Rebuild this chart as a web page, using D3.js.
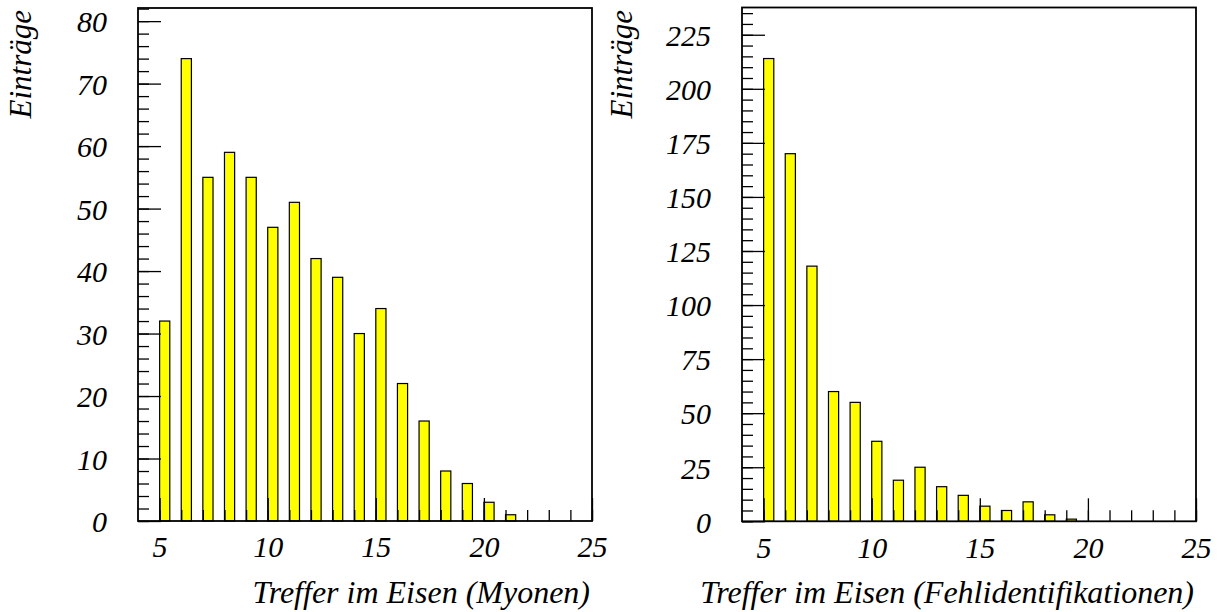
<!DOCTYPE html>
<html>
<head>
<meta charset="utf-8">
<script src="https://cdn.jsdelivr.net/npm/d3@7/dist/d3.min.js"></script>
<style>
  html, body { margin: 0; padding: 0; background: #fff; }
  svg { display: block; }
  text { font-family: "Liberation Serif", "Times New Roman", serif; font-style: italic; fill: #000; }
</style>
</head>
<body>
<svg id="chart" width="1226" height="612"></svg>
<script>
// ---- data ----
const bins = [5, 6, 7, 8, 9, 10, 11, 12, 13, 14, 15, 16, 17, 18, 19, 20, 21, 22, 23, 24];
const myonenCounts = [32, 74, 55, 59, 55, 47, 51, 42, 39, 30, 34, 22, 16, 8, 6, 3, 1, 0, 0, 0];
const fehlCounts = [214, 170, 118, 60, 55, 37, 19, 25, 16, 12, 7, 5, 9, 3, 1, 0, 0, 0, 0, 0];
const xTickLabels = [5, 10, 15, 20, 25];
const xMinorTicks = [5, 6, 7, 8, 9, 10, 11, 12, 13, 14, 15, 16, 17, 18, 19, 20, 21, 22, 23, 24, 25];
const yTicksLeft = [0, 10, 20, 30, 40, 50, 60, 70, 80];
const yTicksRight = [0, 25, 50, 75, 100, 125, 150, 175, 200, 225];
const yTitle = "Einträge";
const xTitleLeft = "Treffer im Eisen (Myonen)";
const xTitleRight = "Treffer im Eisen (Fehlidentifikationen)";

const svg = d3.select("#chart");

function panel(cfg) {
  const g = svg.append("g");
  const x = d3.scaleLinear().domain([4, 25]).range([cfg.x0, cfg.x1]);
  const y = d3.scaleLinear().domain([0, cfg.ymax]).range([cfg.y1, cfg.y0]);
  const barFrac = 0.47;

  // bars
  g.append("g").selectAll("rect")
    .data(bins.map((b, i) => ({ b, v: cfg.values[i] })).filter(d => d.v > 0))
    .join("rect")
    .attr("x", d => x(d.b))
    .attr("width", d => x(d.b + barFrac) - x(d.b))
    .attr("y", d => y(d.v))
    .attr("height", d => y(0) - y(d.v))
    .attr("fill", "#ffff00")
    .attr("stroke", "#000")
    .attr("stroke-width", 1.2);

  // y minor ticks
  const minorY = d3.range(0, cfg.ymax, cfg.yMinorStep);
  g.append("g").attr("transform", `translate(${cfg.x0},0)`)
    .call(d3.axisLeft(y).tickValues(minorY).tickSizeInner(-11).tickSizeOuter(0).tickFormat(""))
    .call(s => s.select(".domain").remove())
    .selectAll("line").attr("stroke", "#000").attr("stroke-width", 1.3);

  // y major ticks + labels
  const ya = g.append("g").attr("transform", `translate(${cfg.x0},0)`)
    .call(d3.axisLeft(y).tickValues(cfg.yTicks).tickSizeInner(-23).tickSizeOuter(0).tickPadding(31))
    .call(s => s.select(".domain").remove());
  ya.selectAll("line").attr("stroke", "#000").attr("stroke-width", 1.3);
  ya.selectAll("text")
    .attr("font-family", '"Liberation Serif", serif')
    .attr("font-style", "italic")
    .attr("font-size", 30)
    .attr("fill", "#000")
    .attr("dy", "0.36em");

  // x minor ticks
  g.append("g").attr("transform", `translate(0,${cfg.y1})`)
    .call(d3.axisBottom(x).tickValues(xMinorTicks).tickSizeInner(-11).tickSizeOuter(0).tickFormat(""))
    .call(s => s.select(".domain").remove())
    .selectAll("line").attr("stroke", "#000").attr("stroke-width", 1.3);

  // x major ticks + labels
  const xa = g.append("g").attr("transform", `translate(0,${cfg.y1})`)
    .call(d3.axisBottom(x).tickValues(xTickLabels).tickSizeInner(-23).tickSizeOuter(0).tickPadding(15))
    .call(s => s.select(".domain").remove());
  xa.selectAll("line").attr("stroke", "#000").attr("stroke-width", 1.3);
  xa.selectAll("text")
    .attr("font-family", '"Liberation Serif", serif')
    .attr("font-style", "italic")
    .attr("font-size", 30)
    .attr("fill", "#000");

  // frame
  g.append("rect")
    .attr("x", cfg.x0).attr("y", cfg.y0)
    .attr("width", cfg.x1 - cfg.x0).attr("height", cfg.y1 - cfg.y0)
    .attr("fill", "none").attr("stroke", "#000").attr("stroke-width", 1.8);

  // titles
  g.append("text")
    .attr("x", cfg.x1 - 2).attr("y", 603)
    .attr("text-anchor", "end")
    .attr("font-size", 32)
    .text(cfg.xTitle);
  g.append("text")
    .attr("transform", `translate(${cfg.yTitleX},10) rotate(-90)`)
    .attr("text-anchor", "end")
    .attr("font-size", 31)
    .text(yTitle);
}

panel({ x0: 138, x1: 592, y0: 8, y1: 521, ymax: 82.1, yMinorStep: 2,
        yTicks: yTicksLeft, values: myonenCounts, xTitle: xTitleLeft, yTitleX: 31 });
panel({ x0: 742, x1: 1196, y0: 7.5, y1: 521.3, ymax: 237.6, yMinorStep: 5,
        yTicks: yTicksRight, values: fehlCounts, xTitle: xTitleRight, yTitleX: 632 });
</script>
</body>
</html>
